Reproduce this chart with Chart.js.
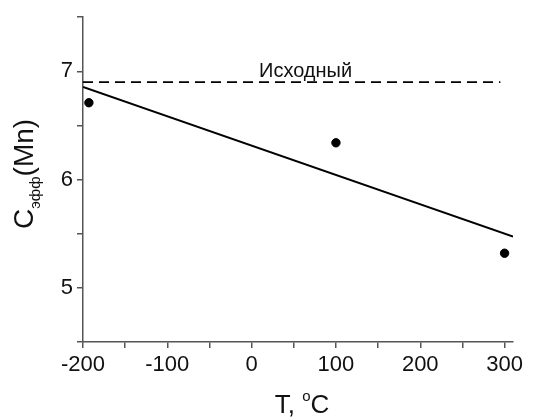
<!DOCTYPE html>
<html>
<head>
<meta charset="utf-8">
<script src="https://cdn.jsdelivr.net/npm/chart.js@4/dist/chart.umd.min.js"></script>
<style>
  html, body { margin: 0; padding: 0; background: #fff; }
  #wrap { width: 533px; height: 417px; }
</style>
</head>
<body>
<div id="wrap"><canvas id="chart"></canvas></div>
<script>
// measured points
var tempPoints = [-193, 100, 300];
var cPoints = [6.71, 6.34, 5.32];
// linear fit
var fitT = [-200, 310];
var fitC = [6.856, 5.474];
// initial level (dashed)
var baseT = [-200, 295];
var baseC = [6.9, 6.9];
var baseLabel = 'Исходный';
var xTickLabels = [-200, -100, 0, 100, 200, 300];
var yTickLabels = [5, 6, 7];

var FONT = '"Liberation Sans", Arial, sans-serif';
var AXIS_COLOR = '#555';

function toXY(xs, ys){
    var out = [], i;
    for(i = 0; i < xs.length; i++){
        out.push({x: xs[i], y: ys[i]});
    }
    return out;
}

/*Textos: etiqueta de la linea y titulos de ejes*/
var textPlugin = {
    id: 'texts',
    afterDraw: function(chart){
        var ctx = chart.ctx, xs = chart.scales.x, ys = chart.scales.y, w;
        ctx.save();
        ctx.fillStyle = '#111';
        ctx.textBaseline = 'alphabetic';

        // label above dashed line
        ctx.font = '20px ' + FONT;
        ctx.textAlign = 'center';
        ctx.fillText(baseLabel, xs.getPixelForValue(64), ys.getPixelForValue(baseC[0]) - 5);

        // x title: T, °C
        ctx.font = '26px ' + FONT;
        ctx.textAlign = 'left';
        var t1 = 'T, ', t2 = 'o', t3 = 'C';
        var w1 = ctx.measureText(t1).width, w3 = ctx.measureText(t3).width;
        ctx.font = '15px ' + FONT;
        var w2 = ctx.measureText(t2).width;
        var x0 = (xs.left + xs.right) / 2 - (w1 + w2 + w3) / 2 + 4, yb = 413;
        ctx.font = '26px ' + FONT;
        ctx.fillText(t1, x0, yb);
        ctx.font = '15px ' + FONT;
        ctx.fillText(t2, x0 + w1, yb - 12);
        ctx.font = '26px ' + FONT;
        ctx.fillText(t3, x0 + w1 + w2, yb);

        // y title: C_эфф(Mn)
        ctx.translate(33, 229);
        ctx.rotate(-Math.PI / 2);
        ctx.font = '28px ' + FONT;
        ctx.fillText('C', 0, 0);
        w = ctx.measureText('C').width;
        ctx.font = '15px ' + FONT;
        ctx.fillText('эфф', w, 7);
        w += ctx.measureText('эфф').width;
        ctx.font = '28px ' + FONT;
        ctx.fillText('(Mn)', w, 0);
        ctx.restore();
    }
};

new Chart(document.getElementById('chart'), {
    type: 'scatter',
    data: {
        datasets: [{
            label: 'points',
            data: toXY(tempPoints, cPoints),
            backgroundColor: '#000',
            borderColor: '#000',
            pointRadius: 4.2,
            pointHoverRadius: 4.2
        }, {
            label: 'fit',
            type: 'line',
            data: toXY(fitT, fitC),
            borderColor: '#000',
            borderWidth: 1.8,
            pointRadius: 0,
            fill: false
        }, {
            label: 'base',
            type: 'line',
            data: toXY(baseT, baseC),
            borderColor: '#000',
            borderWidth: 1.8,
            borderDash: [10, 6],
            pointRadius: 0,
            fill: false
        }]
    },
    options: {
        responsive: true,
        maintainAspectRatio: false,
        animation: false,
        devicePixelRatio: 1,
        layout: { padding: { top: 16, right: 20, left: 0, bottom: 0 } },
        plugins: {
            legend: { display: false },
            tooltip: { enabled: false }
        },
        scales: {
            x: {
                type: 'linear',
                min: -200,
                max: 310,
                grid: { drawOnChartArea: false, drawTicks: true, tickLength: 6, color: AXIS_COLOR, lineWidth: 1.5 },
                border: { display: true, color: AXIS_COLOR, width: 1.5 },
                ticks: {
                    stepSize: 50,
                    includeBounds: false,
                    maxRotation: 0,
                    autoSkip: false,
                    padding: 4,
                    color: '#111',
                    font: { family: FONT, size: 22 },
                    callback: function(v){ return xTickLabels.indexOf(v) >= 0 ? String(v) : ''; }
                },
                afterFit: function(scale){ scale.height = 75; }
            },
            y: {
                type: 'linear',
                min: 4.5,
                max: 7.5,
                grid: { drawOnChartArea: false, drawTicks: true, tickLength: 6, color: AXIS_COLOR, lineWidth: 1.5 },
                border: { display: true, color: AXIS_COLOR, width: 1.5 },
                ticks: {
                    stepSize: 0.5,
                    includeBounds: false,
                    autoSkip: false,
                    padding: 4,
                    color: '#111',
                    font: { family: FONT, size: 22 },
                    callback: function(v){ return yTickLabels.indexOf(v) >= 0 ? String(v) : ''; }
                },
                afterFit: function(scale){ scale.width = 83; }
            }
        }
    },
    plugins: [textPlugin]
});
</script>
</body>
</html>
